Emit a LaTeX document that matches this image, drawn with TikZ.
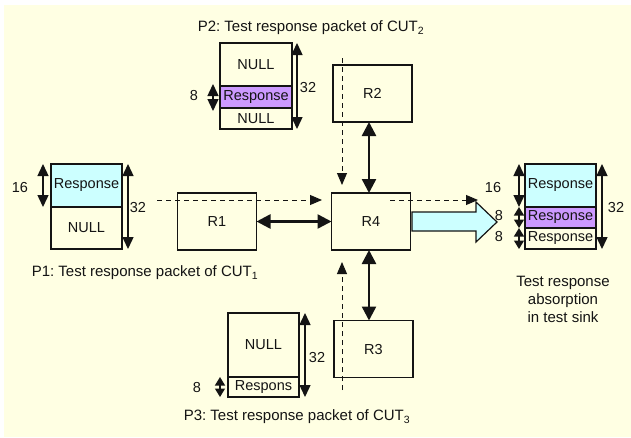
\documentclass[tikz,border=0pt]{standalone}
\usepackage{fontspec}
\setmainfont{Liberation Sans}
\usetikzlibrary{arrows.meta}
\definecolor{bg}{RGB}{255,255,227}
\definecolor{cyanfill}{RGB}{204,255,255}
\definecolor{purplefill}{RGB}{204,153,255}
\definecolor{ink}{RGB}{20,20,20}
\frenchspacing
\begin{document}
\begin{tikzpicture}[x=1pt,y=-1pt,
  font=\fontsize{14.5}{17}\selectfont, text=ink,
  rbox/.style={draw=ink, line width=1.2pt, minimum width=79pt, minimum height=57pt, inner sep=0pt, outer sep=0pt},
  cell/.style={draw=ink, line width=1.2pt, minimum width=71pt, inner sep=0pt, outer sep=0pt, fill=bg},
  dimarrow/.style={draw=ink, line width=1.4pt, {Triangle[width=11pt,length=12pt]}-{Triangle[width=11pt,length=12pt]}},
  shortdim/.style={draw=ink, line width=1.4pt, {Triangle[width=10pt,length=8.5pt]}-{Triangle[width=10pt,length=8.5pt]}},
  linkarrow/.style={draw=ink, line width=2.5pt, {Triangle[width=14pt,length=14pt]}-{Triangle[width=14pt,length=14pt]}},
  flowarrow/.style={draw=ink, line width=0.9pt, dash pattern=on 5pt off 4pt, -{Triangle[width=10pt,length=12pt]}},
  lbl/.style={inner sep=0pt},
  captext/.style={inner sep=0pt, font=\fontsize{15}{18}\selectfont}
]
\useasboundingbox (0,0) rectangle (631,437);
\fill[white] (0,0) rectangle (631,437);
\fill[bg] (4,5) rectangle (631,437);

% routers
\node[rbox] (R1) at (217,221.5) {R1};
\node[rbox] (R4) at (371,221.5) {R4};
\node[rbox] (R2) at (372.5,93.5) {R2};
\node[rbox] (R3) at (373.5,349) {R3};

% links
\coordinate (lxa) at ([xshift=-2pt]R4.north);
\coordinate (lxb) at ([xshift=-2pt]R4.south);
\draw[linkarrow] (R2.south -| lxa) -- (lxa);
\draw[linkarrow] (R1.east) -- (R4.west);
\draw[linkarrow] (lxb) -- (R3.north -| lxb);

% dashed flows
\coordinate (f1s) at (157,200);
\coordinate (f1e) at (322,200);
\coordinate (f2s) at (342,58);
\coordinate (f2e) at (342,185);
\coordinate (f3s) at (342,390);
\coordinate (f3e) at (342,262);
\coordinate (f4s) at (390,200);
\coordinate (f4e) at (478,200);
\draw[flowarrow] (f1s) -- (f1e);
\draw[flowarrow] (f2s) -- (f2e);
\draw[flowarrow] (f3s) -- (f3e);
\draw[flowarrow] (f4s) -- (f4e);

% block arrow to sink
\draw[draw=ink, line width=1.2pt, fill=cyanfill, line join=miter]
  (412,212) -- (476,212) -- (476,202) -- (497,222) -- (476,242) -- (476,231) -- (412,231) -- cycle;

% P2 packet
\node[cell, minimum width=72pt, minimum height=43pt] (p2a) at (256,64.5) {NULL};
\node[cell, minimum width=72pt, minimum height=22pt, fill=purplefill] (p2b) at (256,97) {Response};
\node[cell, minimum width=72pt, minimum height=21pt] (p2c) at (256,118.5) {NULL};
\draw[dimarrow] ([xshift=5pt]p2a.north east) -- ([xshift=5pt]p2c.south east);
\draw[dimarrow] ([xshift=-7pt,yshift=2pt]p2b.north west) -- ([xshift=-7pt,yshift=-3pt]p2b.south west);
\node[lbl] (p2n32) at (308,88) {32};
\node[lbl] (p2n8) at (194,96) {8};
\node[captext] (p2cap) at (311,28) {P2: Test response packet of CUT\textsubscript{2}};

% P1 packet
\node[cell, minimum height=43pt, fill=cyanfill] (p1a) at (86.5,185.5) {Response};
\node[cell, minimum height=42pt] (p1b) at (86.5,228) {NULL};
\draw[dimarrow] ([xshift=-8pt]p1a.north west) -- ([xshift=-8pt]p1a.south west);
\draw[dimarrow] ([xshift=6pt]p1a.north east) -- ([xshift=6pt]p1b.south east);
\node[lbl] (p1n16) at (20,188) {16};
\node[lbl] (p1n32) at (138,208) {32};
\node[captext] (p1cap) at (145,273) {P1: Test response packet of CUT\textsubscript{1}};

% sink packet
\node[cell, minimum height=43pt, fill=cyanfill] (sa) at (560.5,185.5) {Response};
\node[cell, minimum height=21pt, fill=purplefill] (sb) at (560.5,217.5) {Response};
\node[cell, minimum height=21pt] (sc) at (560.5,238.5) {Response};
\draw[dimarrow] ([xshift=-6pt]sa.north west) -- ([xshift=-6pt]sa.south west);
\draw[shortdim] ([xshift=-6pt]sb.north west) -- ([xshift=-6pt]sb.south west);
\draw[shortdim] ([xshift=-6pt]sc.north west) -- ([xshift=-6pt]sc.south west);
\draw[dimarrow] ([xshift=6pt]sa.north east) -- ([xshift=6pt]sc.south east);
\node[lbl] (sn16) at (493,188) {16};
\node[lbl] (sn8a) at (499,216) {8};
\node[lbl] (sn8b) at (499,237) {8};
\node[lbl] (sn32) at (616,208) {32};
\node[captext, align=center] (scap) at (563,299) {Test response\\absorption\\in test sink};

% P3 packet
\node[cell, minimum height=64pt] (p3a) at (263.5,345) {NULL};
\node[cell, minimum height=20pt] (p3b) at (263.5,387) {Respons};
\draw[dimarrow] ([xshift=6pt]p3a.north east) -- ([xshift=6pt]p3b.south east);
\draw[shortdim] ([xshift=-8pt]p3b.north west) -- ([xshift=-8pt]p3b.south west);
\node[lbl] (p3n32) at (317,357) {32};
\node[lbl] (p3n8) at (197,387) {8};
\node[captext] (p3cap) at (297,417) {P3: Test response packet of CUT\textsubscript{3}};
\end{tikzpicture}
\end{document}
